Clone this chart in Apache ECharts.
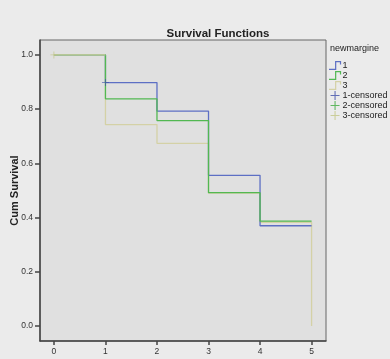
<!DOCTYPE html>
<html><head><meta charset="utf-8">
<script src="https://cdn.jsdelivr.net/npm/echarts@6/dist/echarts.min.js"></script>
<style>html,body{margin:0;padding:0;background:#ebebeb}#c{width:390px;height:359px}</style>
</head><body><div id="c"></div>
<script>
const times = [0, 1, 2, 3, 4, 5];
const group1 = [1.0, 0.898, 0.793, 0.556, 0.370, 0.370];
const group2 = [1.0, 0.838, 0.758, 0.492, 0.387, 0.387];
const group3 = [1.0, 0.743, 0.674, 0.490, 0.383, 0.0];
const censored1 = [[1, 0.898]];
const censored2 = [];
const censored3 = [[0, 1.0]];
const xTicks = [0, 1, 2, 3, 4, 5];
const yTicks = [0, 0.2, 0.4, 0.6, 0.8, 1.0];

const colors = { g1: '#5d6fc4', g2: '#52b852', g3: '#d4d1a6', c3: '#c2c585' };
const stepIcon = 'path://M0,9h7v-9h7v4h-1.4v-2.6h-4.2v9h-8.4z';
const plusIcon = 'path://M4.4,0h1.2v10h-1.2z M0,4.4h10v1.2h-10z';

function pts(vals) {
  return times.map((t, i) => [t, vals[i]]);
}
const g3pts = times.map((t, i) => [t, group3[i]]);
// group 3: flat to 5 then drop to 0
g3pts[5] = [5, group3[4]];
g3pts.push([5, group3[5]]);
// first (shared) segment of group 3 drawn on top
const g3first = [[times[0], group3[0]], [times[1], group3[0]]];

const font = 'Liberation Sans';
const chart = echarts.init(document.getElementById('c'));
chart.setOption({
  backgroundColor: '#ebebeb',
  animation: false,
  title: [
    { text: 'Survival Functions', left: 213, textAlign: 'center', top: 23,
      textStyle: { fontFamily: font, fontSize: 11.5, fontWeight: 'bold', color: '#222' } },
    { text: 'newmargine', left: 330, top: 44, padding: 0,
      textStyle: { fontFamily: font, fontSize: 9, fontWeight: 'normal', color: '#222' } }
  ],
  grid: { left: 40, right: 64, top: 40, bottom: 18, show: true, backgroundColor: '#e0e0e0',
          borderColor: '#666', borderWidth: 1, containLabel: false, outerBoundsMode: 'none' },
  legend: {
    orient: 'vertical', left: 329, top: 61, padding: 0, itemWidth: 13, itemHeight: 9, itemGap: 1,
    textStyle: { fontFamily: font, fontSize: 9, color: '#222', padding: [0, 0, 0, -4] },
    data: [
      { name: '1', icon: stepIcon },
      { name: '2', icon: stepIcon },
      { name: '3', icon: stepIcon },
      { name: '1-censored', icon: plusIcon },
      { name: '2-censored', icon: plusIcon },
      { name: '3-censored', icon: plusIcon }
    ]
  },
  xAxis: {
    type: 'value', min: -0.27, max: 5.28,
    splitLine: { show: false },
    axisLine: { show: true, onZero: false, lineStyle: { color: '#444', width: 1.5 } },
    axisTick: { show: true, inside: false, length: 4, customValues: xTicks, lineStyle: { color: '#444', width: 1.5 } },
    axisLabel: { customValues: xTicks, margin: 6, fontFamily: font, fontSize: 8.5, color: '#333' }
  },
  yAxis: {
    type: 'value', min: -0.055, max: 1.055,
    splitLine: { show: false },
    name: 'Cum Survival', nameLocation: 'middle', nameGap: 20, nameMoveOverlap: false,
    nameTextStyle: { fontFamily: font, fontSize: 11, fontWeight: 'bold', color: '#222' },
    axisLine: { show: true, onZero: false, lineStyle: { color: '#444', width: 1.5 } },
    axisTick: { show: true, inside: false, length: 5, customValues: yTicks, lineStyle: { color: '#444', width: 1.5 } },
    axisLabel: { customValues: yTicks, margin: 7, fontFamily: font, fontSize: 8.5, color: '#333',
                 formatter: v => v.toFixed(1) }
  },
  series: [
    { name: '1', type: 'line', step: 'end', data: pts(group1), showSymbol: false, symbol: 'none',
      itemStyle: { color: colors.g1 }, lineStyle: { color: colors.g1, width: 1.3 }, z: 3 },
    { name: '2', type: 'line', step: 'end', data: pts(group2), showSymbol: false, symbol: 'none',
      itemStyle: { color: colors.g2 }, lineStyle: { color: colors.g2, width: 1.3 }, z: 4 },
    { name: '3', type: 'line', step: 'end', data: g3pts, showSymbol: false, symbol: 'none',
      itemStyle: { color: colors.g3 }, lineStyle: { color: colors.g3, width: 1.3 }, z: 2 },
    { name: '3', type: 'line', data: g3first, showSymbol: false, symbol: 'none',
      itemStyle: { color: colors.g3 }, lineStyle: { color: colors.g3, width: 1.3 }, z: 5 },
    { name: '1-censored', type: 'scatter', data: censored1, symbol: plusIcon, symbolSize: 7,
      itemStyle: { color: '#3f4fa8' }, z: 6 },
    { name: '2-censored', type: 'scatter', data: censored2, symbol: plusIcon, symbolSize: 7,
      itemStyle: { color: '#3faa3f' }, z: 6 },
    { name: '3-censored', type: 'scatter', data: censored3, symbol: plusIcon, symbolSize: 7,
      itemStyle: { color: colors.c3 }, z: 6 }
  ]
});
</script></body></html>
